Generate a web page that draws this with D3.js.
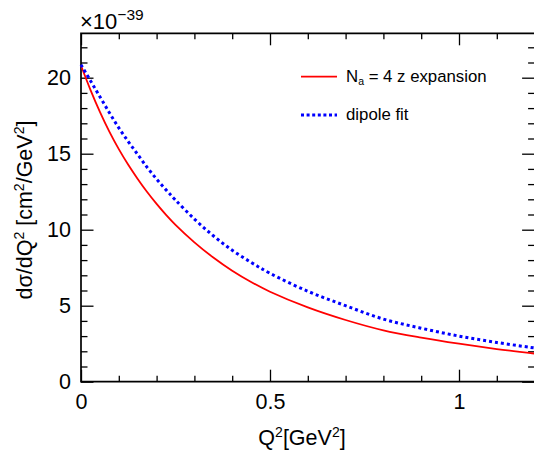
<!DOCTYPE html>
<html>
<head>
<meta charset="utf-8">
<script src="https://cdn.jsdelivr.net/npm/d3@7"></script>
<style>
  html, body { margin: 0; padding: 0; background: #fff; }
  svg { display: block; font-family: "Liberation Sans", Arial, Helvetica, sans-serif; }
</style>
</head>
<body>
<svg id="chart" width="534" height="455"></svg>
<script>
// ---- data ----
const q2 = [0, 0.025, 0.05, 0.075, 0.1, 0.125, 0.15, 0.175, 0.2, 0.225, 0.25, 0.3, 0.35, 0.4, 0.45, 0.5, 0.6, 0.7, 0.8, 0.9, 1.0, 1.1, 1.2];
const zExpansion = [20.8, 19.2, 17.75, 16.45, 15.3, 14.27, 13.34, 12.48, 11.7, 10.98, 10.32, 9.17, 8.17, 7.3, 6.56, 5.92, 4.89, 4.06, 3.38, 2.9, 2.5, 2.15, 1.85];
const dipoleFit = [20.85, 19.8, 18.75, 17.7, 16.7, 15.8, 14.95, 14.1, 13.33, 12.62, 11.95, 10.7, 9.6, 8.65, 7.85, 7.13, 5.95, 5.0, 4.12, 3.52, 3.0, 2.58, 2.22];
const xMajorTicks = [0, 0.5, 1];
const xTickLabels = ["0", "0.5", "1"];
const yMajorTicks = [0, 5, 10, 15, 20];
const yTickLabels = ["0", "5", "10", "15", "20"];
const legendLabels = ["N|a| = 4 z expansion", "dipole fit"];

// ---- layout ----
const svg = d3.select("#chart");
const L = 81, T = 33.3, R = 534.6, B = 381.7;
const x = d3.scaleLinear().domain([0, 1.2]).range([L, R]);
const y = d3.scaleLinear().domain([0, (B - T) / 15.2]).range([B, T]);
const font = 21.5;

const xMinor = d3.range(0, 1.2001, 0.1).filter(v => Math.abs(v * 2 - Math.round(v * 2)) > 1e-6);
const yMinor = d3.range(0, 23, 1).filter(v => v % 5 !== 0);

function styleAxis(g) {
  g.select(".domain").remove();
  g.selectAll(".tick line").attr("stroke", "#000").attr("stroke-width", 1.3);
  g.selectAll(".tick text").attr("fill", "#000").attr("font-size", font)
    .attr("font-family", "Liberation Sans, Arial, sans-serif");
}

// bottom axis
svg.append("g").attr("transform", `translate(0,${B})`)
  .call(d3.axisBottom(x).tickValues(xMajorTicks).tickSize(-12).tickPadding(12)
    .tickFormat((d, i) => xTickLabels[i]))
  .call(styleAxis);
svg.append("g").attr("transform", `translate(0,${B})`)
  .call(d3.axisBottom(x).tickValues(xMinor).tickSize(-6).tickFormat(""))
  .call(styleAxis);
// top axis
svg.append("g").attr("transform", `translate(0,${T})`)
  .call(d3.axisTop(x).tickValues(xMajorTicks).tickSize(-12).tickFormat(""))
  .call(styleAxis);
svg.append("g").attr("transform", `translate(0,${T})`)
  .call(d3.axisTop(x).tickValues(xMinor).tickSize(-6).tickFormat(""))
  .call(styleAxis);
// left axis
svg.append("g").attr("transform", `translate(${L},0)`)
  .call(d3.axisLeft(y).tickValues(yMajorTicks).tickSize(-12.5).tickPadding(10)
    .tickFormat((d, i) => yTickLabels[i]))
  .call(styleAxis);
svg.append("g").attr("transform", `translate(${L},0)`)
  .call(d3.axisLeft(y).tickValues(yMinor).tickSize(-6.5).tickFormat(""))
  .call(styleAxis);
// right axis (frame edge lies just outside the window)
svg.append("g").attr("transform", `translate(${R},0)`)
  .call(d3.axisRight(y).tickValues(yMajorTicks).tickSize(-12.5).tickFormat(""))
  .call(styleAxis);
svg.append("g").attr("transform", `translate(${R},0)`)
  .call(d3.axisRight(y).tickValues(yMinor).tickSize(-6.5).tickFormat(""))
  .call(styleAxis);

// frame: left, top, bottom (right edge falls off the canvas)
svg.append("path")
  .attr("d", `M${R + 2},${T}H${L}V${B}H${R + 2}`)
  .attr("fill", "none").attr("stroke", "#000").attr("stroke-width", 1.7);

// curves
const line = d3.line().x((d, i) => x(q2[i])).y(d => y(d)).curve(d3.curveCatmullRom.alpha(0.5));
svg.append("path").datum(zExpansion).attr("d", line).attr("fill", "none")
  .attr("stroke", "#ff0000").attr("stroke-width", 1.8);
svg.append("path").datum(dipoleFit).attr("d", line).attr("fill", "none")
  .attr("stroke", "#0000ff").attr("stroke-width", 3).attr("stroke-dasharray", "3,3");

// exponent label
const ex = svg.append("text").attr("x", 80).attr("y", 29.3).attr("font-size", 22).attr("fill", "#000");
ex.append("tspan").text("×10");
ex.append("tspan").attr("font-size", 15.5).attr("dy", -9.5).text("−39");

// axis titles
const xt = svg.append("text").attr("x", 302).attr("y", 445).attr("text-anchor", "middle")
  .attr("font-size", font).attr("fill", "#000");
xt.append("tspan").text("Q");
xt.append("tspan").attr("font-size", 14).attr("dy", -8).text("2");
xt.append("tspan").attr("dy", 8).text("[GeV");
xt.append("tspan").attr("font-size", 14).attr("dy", -8).text("2");
xt.append("tspan").attr("dy", 8).text("]");

const yt = svg.append("text").attr("transform", "translate(32,210) rotate(-90)")
  .attr("text-anchor", "middle").attr("font-size", font).attr("fill", "#000");
yt.append("tspan").text("dσ/dQ");
yt.append("tspan").attr("font-size", 14).attr("dy", -8).text("2");
yt.append("tspan").attr("dy", 8).text(" [cm");
yt.append("tspan").attr("font-size", 14).attr("dy", -8).text("2");
yt.append("tspan").attr("dy", 8).text("/GeV");
yt.append("tspan").attr("font-size", 14).attr("dy", -8).text("2");
yt.append("tspan").attr("dy", 8).text("]");

// legend
const legY = [76.7, 115];
const legStyles = [
  { color: "#ff0000", width: 1.8, dash: null },
  { color: "#0000ff", width: 3, dash: "3,2.6" }
];
legendLabels.forEach((lab, i) => {
  const s = legStyles[i];
  svg.append("line").attr("x1", 301).attr("x2", 337).attr("y1", legY[i]).attr("y2", legY[i])
    .attr("stroke", s.color).attr("stroke-width", s.width).attr("stroke-dasharray", s.dash);
  const t = svg.append("text").attr("x", 346).attr("y", legY[i] + 5.2)
    .attr("font-size", 16.8).attr("fill", "#000");
  const parts = lab.split("|");
  if (parts.length === 3) {
    t.append("tspan").text(parts[0]);
    t.append("tspan").attr("font-size", 10.5).attr("dy", 3).text(parts[1]);
    t.append("tspan").attr("dy", -3).text(parts[2]);
  } else {
    t.text(lab);
  }
});
</script>
</body>
</html>
